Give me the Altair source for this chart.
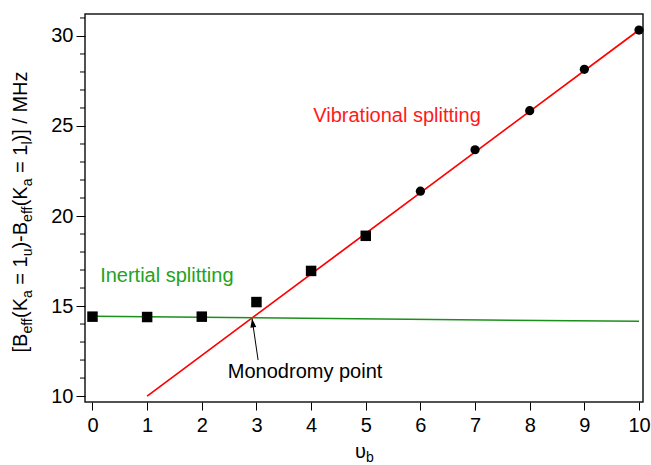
import altair as alt
import pandas as pd

# Splitting of the K_a = 1 doublet (MHz) against the bending quantum number
v_square = [0, 1, 2, 3, 4, 5]
s_square = [14.41, 14.39, 14.41, 15.22, 16.95, 18.90]
v_circle = [6, 7, 8, 9, 10]
s_circle = [21.38, 23.68, 25.85, 28.15, 30.33]

# Trend lines for the two regimes
vib_v = [1, 10]
vib_s = [10.0, 30.33]
inert_v = [0, 10]
inert_s = [14.43, 14.15]

# Arrow pointing at the crossing of the two regimes
arrow_from = (3.03, 12.0)
arrow_to = (2.92, 14.30)

x_ticks = list(range(0, 11))
y_ticks = [10, 15, 20, 25, 30]
y_minor = [v for v in range(10, 32) if v % 5]

X_DOM = [-0.137, 10.073]
Y_DOM = [9.67, 31.22]
W, H = 558, 388
PAD = {"left": 85, "top": 14, "right": 8, "bottom": 63}
FONT = "Liberation Sans"
RED = "#ff0000"
GREEN = "#1b8f1b"

xs = alt.Scale(domain=X_DOM, nice=False, zero=False)
ys = alt.Scale(domain=Y_DOM, nice=False, zero=False)
x_axis = alt.Axis(values=x_ticks, title=None, grid=False, domain=False,
                  tickSize=8, tickColor="black", tickWidth=1,
                  labelFont=FONT, labelFontSize=20, labelColor="black",
                  labelPadding=5, labelFlush=False, labelAngle=0)
y_axis = alt.Axis(values=y_ticks, title=None, grid=False, domain=False,
                  tickSize=9, tickColor="black", tickWidth=1,
                  labelFont=FONT, labelFontSize=20, labelColor="black",
                  labelPadding=3, labelFlush=False)


def X(field):
    return alt.X(field, type="quantitative", scale=xs, axis=x_axis)


def Y(field):
    return alt.Y(field, type="quantitative", scale=ys, axis=y_axis)


sq_df = pd.DataFrame({"v": v_square, "s": s_square})
ci_df = pd.DataFrame({"v": v_circle, "s": s_circle})
vib_df = pd.DataFrame({"v": vib_v, "s": vib_s})
inert_df = pd.DataFrame({"v": inert_v, "s": inert_s})

vib_line = alt.Chart(vib_df).mark_line(color=RED, strokeWidth=1.7).encode(x=X("v"), y=Y("s"))
inert_line = alt.Chart(inert_df).mark_line(color=GREEN, strokeWidth=1.5).encode(x=X("v"), y=Y("s"))

squares = alt.Chart(sq_df).mark_point(shape="square", filled=True, color="black",
                                      opacity=1, size=110).encode(x=X("v"), y=Y("s"))
circles = alt.Chart(ci_df).mark_circle(color="black", opacity=1, size=85).encode(x=X("v"), y=Y("s"))

arrow_df = pd.DataFrame({"x0": [arrow_from[0]], "y0": [arrow_from[1]],
                         "x1": [arrow_to[0]], "y1": [arrow_to[1]]})
arrow_shaft = alt.Chart(arrow_df).mark_rule(color="black", strokeWidth=1).encode(
    x=X("x0"), y=Y("y0"), x2="x1", y2="y1")
arrow_head = alt.Chart(arrow_df).mark_point(
    shape="M0,0L-0.75,2.2L0.75,2.2Z", filled=True, color="black", opacity=1,
    size=64, angle=351.8).encode(x=X("x1"), y=Y("y1"))

minor = alt.Chart(pd.DataFrame({"m": y_minor})).mark_rule(color="black", strokeWidth=1).encode(
    y=Y("m"), x=alt.value(-5), x2=alt.value(0))


def label(text, xv, yv, color, align):
    df = pd.DataFrame({"t": [text], "x": [xv], "y": [yv]})
    return alt.Chart(df).mark_text(font=FONT, fontSize=20, color=color, align=align,
                                   baseline="middle").encode(x=X("x"), y=Y("y"), text="t:N")


labels = [
    label("Vibrational splitting", 4.04, 25.58, "#ff1a1a", "left"),
    label("Inertial splitting", 0.14, 16.66, "#22a322", "left"),
    label("Monodromy point", 3.89, 11.32, "black", "center"),
]

# Axis titles with subscripts, laid out piece by piece from font advance widths
ADV = {"[": 278, "]": 278, "B": 667, "(": 333, ")": 333, "K": 667, "=": 584,
       "1": 556, "-": 333, "/": 278, "M": 833, "H": 722, "z": 500, " ": 278,
       "e": 556, "f": 278, "a": 556, "u": 556, "l": 222, "b": 556}
MAIN_FS, SUB_FS, SUB_SHIFT = 20, 14, 5


def adv(s, fs):
    return sum(ADV[c] for c in s) * fs / 1000


y_title_parts = [("[B", False), ("eff", True), ("(K", False), ("a", True),
                 (" = 1", False), ("u", True), (")-B", False), ("eff", True),
                 ("(K", False), ("a", True), (" = 1", False), ("l", True),
                 (")] / MHz", False)]


def fs_of(sub):
    return SUB_FS if sub else MAIN_FS


total = sum(adv(t, fs_of(s)) for t, s in y_title_parts)
pos = 212 - PAD["top"] + total / 2
base_x = 27 - PAD["left"]
title_layers = []
for t, sub in y_title_parts:
    fs = fs_of(sub)
    body = t.lstrip(" ")
    pos -= adv(t[: len(t) - len(body)], fs)
    df = pd.DataFrame({"t": [body]})
    title_layers.append(
        alt.Chart(df).mark_text(font=FONT, fontSize=fs, color="black", angle=270,
                                align="left", baseline="alphabetic").encode(
            text="t:N", x=alt.value(base_x + (SUB_SHIFT if sub else 0)), y=alt.value(pos)))
    pos -= adv(body, fs)

ux = 355 - PAD["left"]
title_layers.append(
    alt.Chart(pd.DataFrame({"t": ["\u03c5"]})).mark_text(
        font=FONT, fontSize=20, color="black", align="left", baseline="alphabetic").encode(
        text="t:N", x=alt.value(ux), y=alt.value(458 - PAD["top"])))
title_layers.append(
    alt.Chart(pd.DataFrame({"t": ["b"]})).mark_text(
        font=FONT, fontSize=14, color="black", align="left", baseline="alphabetic").encode(
        text="t:N", x=alt.value(ux + 11), y=alt.value(462 - PAD["top"])))

chart = alt.layer(
    vib_line, inert_line, arrow_shaft, arrow_head, squares, circles, minor,
    *labels, *title_layers,
).properties(
    width=W, height=H, padding=PAD, autosize=alt.AutoSizeParams(type="none"),
    background="white",
).configure_view(stroke="#1a1a1a", strokeWidth=1.5)

chart.save("out.html", embed_options={"renderer": "svg", "actions": False})
